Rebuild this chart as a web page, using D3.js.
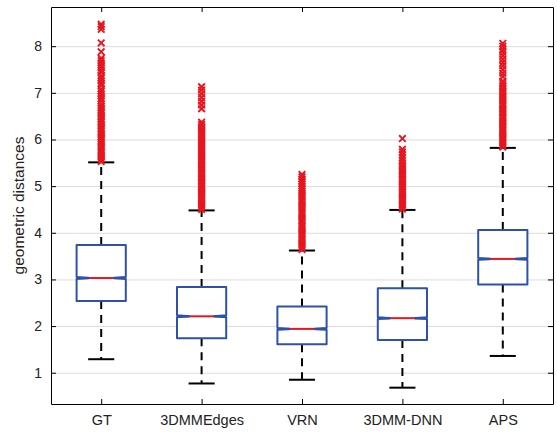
<!DOCTYPE html>
<html>
<head>
<meta charset="utf-8">
<script src="https://cdn.jsdelivr.net/npm/d3@7"></script>
<style>
  body { margin: 0; background: #fff; }
  text { font-family: "Liberation Sans", Arial, sans-serif; fill: #222; }
</style>
</head>
<body>
<svg id="chart"></svg>
<script>
// box stats
const categories = ['GT', '3DMMEdges', 'VRN', '3DMM-DNN', 'APS'];
const q1 = [2.54, 1.74, 1.61, 1.70, 2.89];
const medians = [3.03, 2.21, 1.94, 2.17, 3.44];
const q3 = [3.74, 2.84, 2.42, 2.81, 4.06];
const whiskerLow = [1.29, 0.77, 0.85, 0.68, 1.36];
const whiskerHigh = [5.51, 4.48, 3.62, 4.49, 5.82];
const notchHalf = [0.02, 0.02, 0.02, 0.02, 0.02];
const yTicks = [1, 2, 3, 4, 5, 6, 7, 8];

// outliers (red x), bottom to top
const outGT = [5.53, 5.58, 5.62, 5.67, 5.72, 5.76, 5.81, 5.86, 5.91, 5.95, 6.0, 6.05, 6.1, 6.14, 6.19, 6.24,
  6.29, 6.33, 6.38, 6.43, 6.48, 6.52, 6.57, 6.62, 6.67, 6.71, 6.76, 6.83, 6.88, 6.93, 6.98, 7.03, 7.08, 7.16,
  7.21, 7.26, 7.31, 7.36, 7.44, 7.49, 7.54, 7.59, 7.64, 7.69, 7.74, 7.88, 8.07, 8.36, 8.42, 8.47];
const outEdges = [4.5, 4.55, 4.59, 4.64, 4.69, 4.73, 4.78, 4.83, 4.87, 4.92, 4.97, 5.01, 5.06, 5.11, 5.15,
  5.2, 5.25, 5.29, 5.34, 5.39, 5.43, 5.48, 5.53, 5.57, 5.62, 5.67, 5.71, 5.76, 5.81, 5.85, 5.9, 5.95, 5.99,
  6.04, 6.09, 6.13, 6.18, 6.23, 6.27, 6.32, 6.37, 6.66, 6.74, 6.82, 6.9, 6.98, 7.06, 7.13];
const outVRN = [3.64, 3.69, 3.73, 3.78, 3.83, 3.87, 3.92, 3.97, 4.01, 4.06, 4.11, 4.15, 4.2, 4.25, 4.29,
  4.34, 4.39, 4.43, 4.48, 4.53, 4.57, 4.62, 4.67, 4.71, 4.76, 4.81, 4.85, 4.9, 4.95, 5.0, 5.05, 5.1, 5.15,
  5.2, 5.25];
const outDNN = [4.51, 4.56, 4.6, 4.65, 4.7, 4.74, 4.79, 4.84, 4.88, 4.93, 4.98, 5.02, 5.07, 5.12, 5.16,
  5.21, 5.26, 5.3, 5.35, 5.4, 5.44, 5.49, 5.55, 5.61, 5.67, 5.73, 5.79, 6.02];
const outAPS = [5.84, 5.89, 5.93, 5.98, 6.03, 6.07, 6.12, 6.17, 6.21, 6.26, 6.31, 6.35, 6.4, 6.45, 6.49,
  6.54, 6.59, 6.63, 6.68, 6.73, 6.77, 6.82, 6.87, 6.91, 6.96, 7.01, 7.05, 7.1, 7.15, 7.2, 7.25, 7.35, 7.42,
  7.5, 7.58, 7.65, 7.72, 7.8, 7.87, 7.93, 8.0, 8.06];
const outliers = [outGT, outEdges, outVRN, outDNN, outAPS];

const W = 557, H = 433;
const m = { left: 51, right: 4, top: 7, bottom: 29 };
const iw = W - m.left - m.right, ih = H - m.top - m.bottom;

const svg = d3.select('#chart').attr('width', W).attr('height', H);
const g = svg.append('g').attr('transform', `translate(${m.left},${m.top})`);

const x = d3.scaleLinear().domain([0.5, 5.5]).range([0, iw]);
const y = d3.scaleLinear().domain([0.33, 8.84]).range([ih, 0]);
const pos = categories.map((c, i) => i + 1);

// grid
g.append('g')
  .call(d3.axisLeft(y).tickValues(yTicks).tickSize(-iw).tickFormat(''))
  .call(a => a.select('.domain').remove())
  .selectAll('line').attr('stroke', '#dcdcdc').attr('stroke-width', 1);

const boxHalf = 0.245, capHalf = 0.13;

// whiskers
const wh = g.append('g');
pos.forEach((p, i) => {
  wh.append('line')
    .attr('x1', x(p)).attr('x2', x(p))
    .attr('y1', y(q3[i])).attr('y2', y(whiskerHigh[i]))
    .attr('stroke', '#000').attr('stroke-width', 2).attr('stroke-dasharray', '8,6');
  wh.append('line')
    .attr('x1', x(p)).attr('x2', x(p))
    .attr('y1', y(q1[i])).attr('y2', y(whiskerLow[i]))
    .attr('stroke', '#000').attr('stroke-width', 2).attr('stroke-dasharray', '8,6');
  [whiskerLow[i], whiskerHigh[i]].forEach(v => {
    wh.append('line')
      .attr('x1', x(p - capHalf)).attr('x2', x(p + capHalf))
      .attr('y1', y(v)).attr('y2', y(v))
      .attr('stroke', '#000').attr('stroke-width', 2);
  });
});

// outliers
const xs = 3.3;
pos.forEach((p, i) => {
  const o = g.append('g').attr('stroke', '#e8161f').attr('stroke-width', 1.9);
  outliers[i].forEach(v => {
    const cx = x(p), cy = y(v);
    o.append('path').attr('d', `M${cx - xs},${cy - xs}L${cx + xs},${cy + xs}M${cx - xs},${cy + xs}L${cx + xs},${cy - xs}`);
  });
});

// notched boxes
pos.forEach((p, i) => {
  const l = x(p - boxHalf), r = x(p + boxHalf);
  const li = x(p - boxHalf / 2), ri = x(p + boxHalf / 2);
  const nt = y(medians[i] + notchHalf[i]), nb = y(medians[i] - notchHalf[i]), md = y(medians[i]);
  const path = `M${l},${y(q1[i])}L${l},${nb}L${li},${md}L${l},${nt}L${l},${y(q3[i])}` +
    `L${r},${y(q3[i])}L${r},${nt}L${ri},${md}L${r},${nb}L${r},${y(q1[i])}Z`;
  g.append('path').attr('d', path)
    .attr('fill', '#fff').attr('stroke', '#2d51ad').attr('stroke-width', 2).attr('stroke-linejoin', 'round');
  g.append('line')
    .attr('x1', l).attr('x2', li).attr('y1', md).attr('y2', md)
    .attr('stroke', '#2d51ad').attr('stroke-width', 2.5);
  g.append('line')
    .attr('x1', ri).attr('x2', r).attr('y1', md).attr('y2', md)
    .attr('stroke', '#2d51ad').attr('stroke-width', 2.5);
  g.append('line')
    .attr('x1', li).attr('x2', ri).attr('y1', md).attr('y2', md)
    .attr('stroke', '#e8161f').attr('stroke-width', 2);
});

// axes (ticks inward, box on)
const styleAxis = a => {
  a.select('.domain').attr('stroke', '#000');
  a.selectAll('.tick line').attr('stroke', '#000');
  a.selectAll('text').attr('font-size', 14).attr('fill', '#222');
};
g.append('g').call(d3.axisLeft(y).tickValues(yTicks).tickSizeInner(-5).tickSizeOuter(0).tickPadding(9))
  .call(styleAxis);
g.append('g').attr('transform', `translate(${iw},0)`)
  .call(d3.axisRight(y).tickValues(yTicks).tickSizeInner(-5).tickSizeOuter(0).tickFormat(''))
  .call(styleAxis);
g.append('g').attr('transform', `translate(0,${ih})`)
  .call(d3.axisBottom(x).tickValues(pos).tickFormat((d, i) => categories[i]).tickSizeInner(-5).tickSizeOuter(0).tickPadding(11))
  .call(styleAxis)
  .call(a => a.selectAll('text').attr('font-size', 14.5));
g.append('g')
  .call(d3.axisTop(x).tickValues(pos).tickSizeInner(-5).tickSizeOuter(0).tickFormat(''))
  .call(styleAxis);

svg.append('text')
  .attr('transform', `translate(19,${m.top + ih / 2}) rotate(-90)`)
  .attr('text-anchor', 'middle').attr('dy', '0.35em')
  .attr('font-size', 15.5)
  .text('geometric distances');
</script>
</body>
</html>
